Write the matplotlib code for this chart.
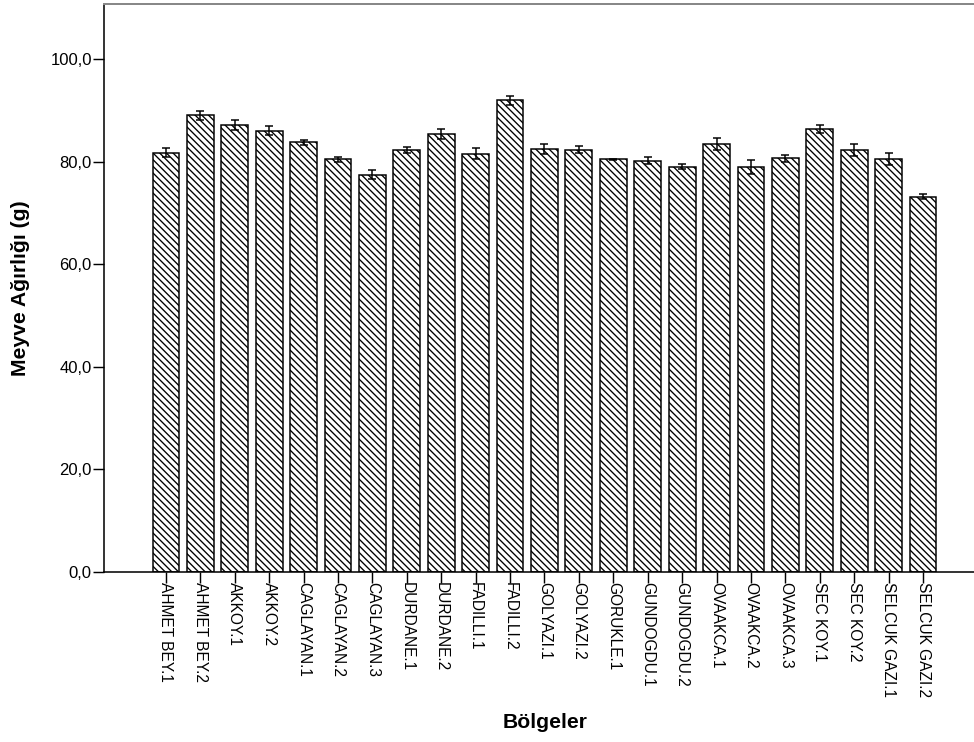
import matplotlib
matplotlib.use("Agg")
import matplotlib.pyplot as plt
import numpy as np

plt.rcParams['font.family'] = ['Liberation Sans', 'DejaVu Sans']
plt.rcParams['hatch.linewidth'] = 1.2

# Bölgeler ve ortalama meyve ağırlıkları
bolgeler = [
    "AHMET BEY.1", "AHMET BEY.2", "AKKOY.1", "AKKOY.2", "CAGLAYAN.1",
    "CAGLAYAN.2", "CAGLAYAN.3", "DURDANE.1", "DURDANE.2", "FADILLI.1",
    "FADILLI.2", "GOLYAZI.1", "GOLYAZI.2", "GORUKLE.1", "GUNDOGDU.1",
    "GUNDOGDU.2", "OVAAKCA.1", "OVAAKCA.2", "OVAAKCA.3", "SEC KOY.1",
    "SEC KOY.2", "SELCUK GAZI.1", "SELCUK GAZI.2",
]
ortalama = [81.8, 89.1, 87.2, 86.1, 83.8, 80.5, 77.5, 82.3, 85.5, 81.6,
            92.0, 82.5, 82.4, 80.5, 80.2, 79.0, 83.5, 79.0, 80.7, 86.4,
            82.3, 80.5, 73.2]
hata = [0.85, 0.85, 0.9, 0.9, 0.5, 0.45, 0.85, 0.5, 1.0, 1.0,
        0.85, 0.9, 0.7, 0.1, 0.7, 0.5, 1.1, 1.3, 0.65, 0.7,
        1.1, 1.2, 0.45]
yticks = [0, 20, 40, 60, 80, 100]

DPI = 80
fig = plt.figure(figsize=(974 / DPI, 742 / DPI), dpi=DPI)
ax = fig.add_axes([104 / 974, 1 - 571.7 / 742, 882 / 974, 567.7 / 742])

x = np.arange(len(bolgeler))
ax.bar(x, ortalama, width=0.78, color="white", edgecolor="black",
       linewidth=1.35, hatch="\\\\\\\\", zorder=2)
ax.errorbar(x, ortalama, yerr=hata, fmt="none", ecolor="black",
            elinewidth=1.35, capsize=3.4, capthick=1.35, zorder=3)

ax.set_xlim(-1.8, len(bolgeler) - 1 + 1.83)
ax.set_ylim(0, 110.8)
ax.set_yticks(yticks)
ax.set_yticklabels([f"{v:.1f}".replace(".", ",") for v in yticks], fontsize=15)
ax.set_xticks(x)
ax.set_xticklabels(bolgeler, rotation=270, fontsize=14, ha="center", va="top")
ax.tick_params(axis="both", length=9.5, width=1.3, color="black")
ax.tick_params(axis="x", pad=0)
ax.tick_params(axis="y", pad=1.5)

ax.spines["left"].set_linewidth(1.4)
ax.spines["bottom"].set_linewidth(1.4)
ax.spines["top"].set_color("#888888")
ax.spines["top"].set_linewidth(1.8)
ax.spines["right"].set_visible(False)

fig.text(21 / 974, 1 - 288.5 / 742, "Meyve Ağırlığı (g)", rotation=90,
         ha="center", va="center", fontsize=19, fontweight="bold")
fig.text(545 / 974, 1 - 723 / 742, "Bölgeler", ha="center", va="center",
         fontsize=19, fontweight="bold")

fig.savefig("out.png", dpi=DPI)
